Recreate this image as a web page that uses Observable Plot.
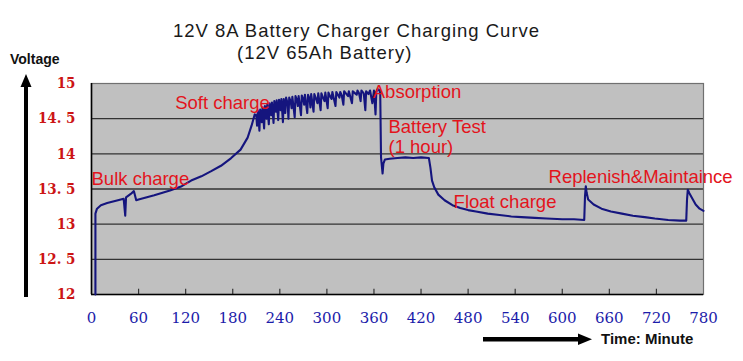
<!DOCTYPE html>
<html>
<head>
<meta charset="utf-8">
<script src="https://cdn.jsdelivr.net/npm/d3@7"></script>
<script src="https://cdn.jsdelivr.net/npm/@observablehq/plot@0.6"></script>
<style>
  html, body { margin: 0; padding: 0; background: #fff; }
  #wrap { position: relative; width: 743px; height: 361px; overflow: hidden; }
  #wrap > svg { position: absolute; left: 0; top: 0; }
</style>
</head>
<body>
<div id="wrap"></div>
<script>
// ---- data ----
const titleLines = ["12V 8A Battery Charger Charging Curve", "(12V 65Ah Battery)"];
const yAxisTitle = "Voltage";
const xAxisTitle = "Time: Minute";
const xTicks = [0, 60, 120, 180, 240, 300, 360, 420, 480, 540, 600, 660, 720, 780];
const yTicks = [12, 12.5, 13, 13.5, 14, 14.5, 15];
const yTickLabels = ["12", "12. 5", "13", "13. 5", "14", "14. 5", "15"];
const gridVolts = [12.5, 13, 13.5, 14, 14.5];
const innerTicks = [60, 120, 180, 240, 300, 360, 420, 480, 540, 600, 660, 720];

// [minute, volt]
const curvePoints = [
  [5,12.0],[5,13.15],[7,13.22],[12,13.27],[20,13.30],[30,13.33],[41,13.36],[43,13.12],[44,13.38],
  [50,13.43],[54,13.47],[57,13.34],[60,13.35],[80,13.41],[100,13.48],[115,13.54],[127,13.62],
  [140,13.68],[152,13.75],[165,13.83],[178,13.94],[190,14.06],[199,14.23],[204,14.40],[208,14.56],
  [210,14.55],[211,14.40],[212,14.62],[213,14.50],[214,14.33],[215,14.63],[216,14.55],[217,14.45],[218,14.66],[220,14.36],
  [221,14.68],[222,14.60],[223,14.50],[224,14.70],[226,14.42],[227,14.72],[228,14.64],[229,14.55],[230,14.73],[232,14.44],
  [233,14.75],[234,14.68],[235,14.60],[236,14.76],[238,14.48],[239,14.77],[240,14.70],[241,14.62],[242,14.78],[244,14.45],
  [245,14.78],[246,14.70],[247,14.58],[248,14.80],[250,14.72],[251,14.50],[252,14.80],[254,14.74],[255,14.65],[256,14.81],[259,14.52],
  [260,14.82],[262,14.76],[263,14.68],[264,14.82],[267,14.55],[268,14.83],[270,14.77],[271,14.70],[272,14.84],[275,14.58],
  [276,14.84],[278,14.78],[279,14.66],[280,14.85],[283,14.60],[284,14.85],[286,14.79],[288,14.72],[289,14.86],[292,14.62],
  [293,14.86],[295,14.80],[297,14.75],[298,14.87],[301,14.65],[302,14.87],[304,14.82],[306,14.78],[307,14.88],[311,14.68],
  [312,14.88],[314,14.84],[316,14.80],[317,14.88],[319,14.83],[321,14.70],[322,14.89],[325,14.85],[327,14.82],[328,14.89],[332,14.72],
  [333,14.89],[336,14.86],[338,14.84],[339,14.90],[341,14.86],[343,14.75],[344,14.90],[347,14.86],[349,14.62],[350,14.89],[353,14.85],
  [355,14.90],[358,14.72],[360,14.90],[362,14.56],[363,14.88],[365,14.92],[367,14.90],[368,14.85],
  [369,13.95],[371,13.72],[372,13.86],[374,13.92],[380,13.93],[390,13.94],[400,13.95],[410,13.94],
  [420,13.95],[430,13.94],[432,13.80],[434,13.62],[437,13.52],[442,13.42],[450,13.34],[460,13.27],
  [470,13.23],[480,13.20],[490,13.18],[505,13.15],[520,13.13],[535,13.11],[548,13.10],[565,13.09],
  [580,13.08],[600,13.07],[615,13.07],[628,13.06],[629,13.40],[630,13.54],[631,13.45],[633,13.35],
  [640,13.28],[650,13.22],[662,13.18],[676,13.15],[690,13.12],[705,13.10],[718,13.08],[735,13.06],
  [750,13.05],[758,13.05],[759,13.35],[760,13.49],[762,13.44],[765,13.38],[770,13.28],[775,13.22],
  [780,13.19]
];

const phaseText = ["Bulk charge", "Soft charge", "Absorption", "Battery Test", "(1 hour)", "Float charge", "Replenish&Maintaince"];
const phaseMinute = [0, 106.7, 358.5, 378.5, 378.5, 461.5, 582.5];
const phaseVolt = [13.645, 14.72, 14.876, 14.38, 14.094, 13.31, 13.668];

// ---- chart ----
const phases = phaseText.map((t, i) => ({text: t, x: phaseMinute[i], y: phaseVolt[i]}));

const chart = Plot.plot({
  width: 743,
  height: 361,
  marginLeft: 91,
  marginRight: 40,
  marginTop: 83,
  marginBottom: 67,
  x: {domain: [0, 780]},
  y: {domain: [12, 15]},
  style: {background: "transparent", overflow: "visible"},
  marks: [
    Plot.frame({fill: "#c0c0c0", stroke: null}),
    Plot.ruleY(gridVolts, {stroke: "#333", strokeWidth: 1.4}),
    Plot.ruleX(innerTicks, {y1: 12, y2: 12.075, stroke: "#333", strokeWidth: 1.2}),
    Plot.frame({stroke: "#707070", strokeWidth: 1.2}),
    Plot.ruleX([0], {stroke: "#000", strokeWidth: 1.6}),
    Plot.ruleY([12], {stroke: "#000", strokeWidth: 1.6}),
    Plot.line(curvePoints, {x: d => d[0], y: d => d[1], stroke: "#15157e", strokeWidth: 2.1, strokeLinejoin: "round"}),
    Plot.text(phases, {x: "x", y: "y", text: "text", textAnchor: "start", fill: "#e3141c",
      fontSize: 18.5, fontFamily: "Liberation Sans, Arial, sans-serif"}),
    Plot.axisX(xTicks, {tickSize: 0, tickPadding: 18, label: null, fill: "#1c1caa",
      fontSize: 15, fontFamily: "DejaVu Serif, serif"}),
    Plot.axisY(yTicks, {tickSize: 0, tickPadding: 16, label: null, fill: "#cc1515",
      tickFormat: d => yTickLabels[yTicks.indexOf(d)],
      fontSize: 15, fontWeight: "bold", fontFamily: "\"DejaVu Serif Condensed\", \"DejaVu Serif\", serif"})
  ]
});

const wrap = document.getElementById("wrap");
wrap.appendChild(chart);

// ---- decorations (titles, arrows) ----
const ns = "http://www.w3.org/2000/svg";
const deco = d3.create("svg").attr("xmlns", ns).attr("width", 743).attr("height", 361)
  .style("position", "absolute").style("left", "0").style("top", "0").style("pointer-events", "none");

deco.append("text").attr("x", 173).attr("y", 37).attr("fill", "#1a1a1a")
  .attr("font-family", "Liberation Sans, Arial, sans-serif").attr("font-size", 18.5)
  .attr("letter-spacing", 1).text(titleLines[0]);
deco.append("text").attr("x", 237).attr("y", 59).attr("fill", "#1a1a1a")
  .attr("font-family", "Liberation Sans, Arial, sans-serif").attr("font-size", 18.5)
  .attr("letter-spacing", 1).text(titleLines[1]);

deco.append("text").attr("x", 10).attr("y", 64).attr("fill", "#111")
  .attr("font-family", "Liberation Sans, Arial, sans-serif").attr("font-size", 14)
  .attr("font-weight", "bold").text(yAxisTitle);

// vertical arrow
deco.append("rect").attr("x", 24).attr("y", 84).attr("width", 4).attr("height", 213).attr("fill", "#000");
deco.append("path").attr("d", "M26,74 L31.5,87 L20.5,87 Z").attr("fill", "#000");

// horizontal arrow
deco.append("rect").attr("x", 483).attr("y", 337).attr("width", 97).attr("height", 4.5).attr("fill", "#000");
deco.append("path").attr("d", "M592,339.3 L578,333.5 L578,345 Z").attr("fill", "#000");

deco.append("text").attr("x", 601).attr("y", 343.5).attr("fill", "#111")
  .attr("font-family", "Liberation Sans, Arial, sans-serif").attr("font-size", 15)
  .attr("font-weight", "bold").text(xAxisTitle);

wrap.appendChild(deco.node());
</script>
</body>
</html>
